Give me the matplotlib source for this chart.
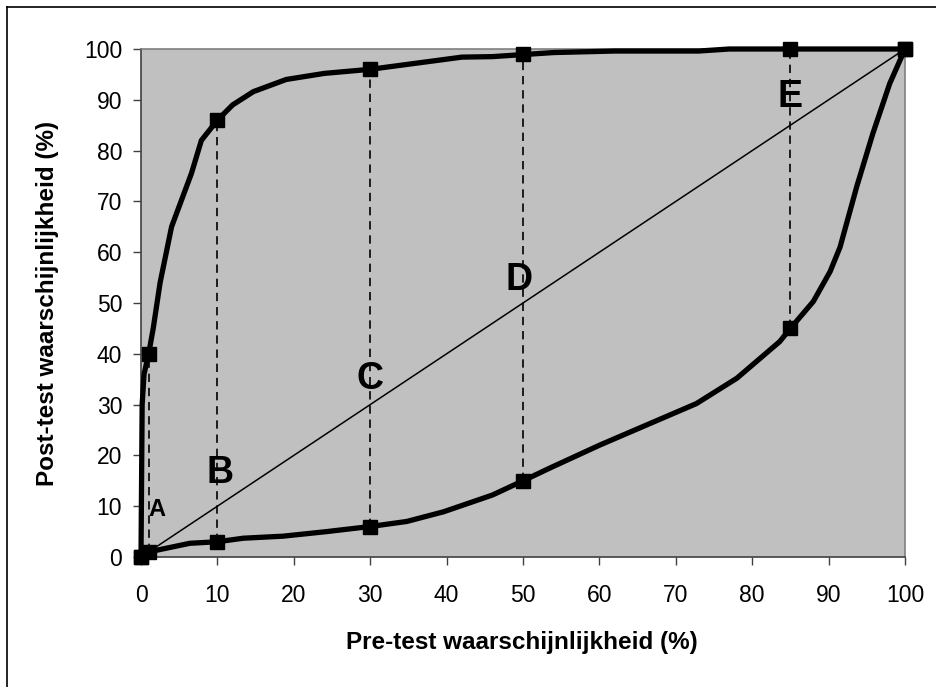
import matplotlib
matplotlib.use("Agg")
import matplotlib.pyplot as plt
from matplotlib.lines import Line2D


# upper curve (positive test)
PRE_UPPER = [0, 0.05, 0.1, 0.15, 0.4, 1, 1.6, 2.5, 4, 6.6, 7.9, 10, 12, 14.7,
             19, 24, 30, 35, 42, 46, 50, 54, 62, 73, 77, 85, 100]
POST_UPPER = [0, 10, 20, 30, 36, 40, 45, 54, 65, 75.5, 82, 86, 89, 91.6,
              94, 95.2, 96, 97, 98.4, 98.5, 98.9, 99.3, 99.6, 99.6, 100, 100, 100]

# lower curve (negative test)
PRE_LOWER = [0, 1, 6.4, 10, 13.4, 18.6, 24.3, 30, 34.8, 39.6, 46, 50, 53.5,
             60, 72.7, 78, 83.6, 85, 88, 90.2, 91.5, 93.7, 95.8, 98, 100]
POST_LOWER = [0, 1, 2.7, 3, 3.7, 4.1, 5, 6, 7, 8.9, 12.2, 15, 17.5,
              22, 30.2, 35.2, 42.4, 45, 50.3, 56.2, 61, 73, 83.4, 93.2, 100]

# marked points
MARK_PRE = [0, 1, 10, 30, 50, 85, 100]
MARK_UPPER = [0, 40, 86, 96, 99, 100, 100]
MARK_LOWER = [0, 1, 3, 6, 15, 45, 100]

LETTERS = ["A", "B", "C", "D", "E"]
LETTER_X = [2.1, 10.4, 30, 49.5, 85]
LETTER_Y = [9.4, 16.5, 35, 54.5, 90.5]

TICKS = [0, 10, 20, 30, 40, 50, 60, 70, 80, 90, 100]


def main() -> None:
    plt.rcParams.update(
        {
            "font.family": ["Liberation Sans", "DejaVu Sans"],
        }
    )

    W, H = 936, 687
    fig = plt.figure(figsize=(W / 100, H / 100), dpi=100)
    ax = fig.add_axes([141 / W, 1 - 557 / H, (905 - 141) / W, (557 - 49) / H])
    ax.set_facecolor("#C0C0C0")

    # outer chart frame (only left and top edges fall inside the image)
    fig.add_artist(Line2D([7 / W, 7 / W], [0, 1 - 7 / H], transform=fig.transFigure,
                          color="black", lw=1.2))
    fig.add_artist(Line2D([7 / W, 1], [1 - 7 / H, 1 - 7 / H], transform=fig.transFigure,
                          color="black", lw=1.2))

    # diagonal
    ax.plot([0, 100], [0, 100], color="black", lw=1.1, zorder=2)

    # vertical dashed drops
    for x, lo, hi in zip(MARK_PRE[1:6], MARK_LOWER[1:6], MARK_UPPER[1:6]):
        ax.plot([x, x], [lo, hi], color="black", lw=1.2, ls=(0, (5, 3.5)), zorder=2)

    ax.plot(PRE_UPPER, POST_UPPER, color="black", lw=3.8, solid_joinstyle="round",
            zorder=3, clip_on=False)
    ax.plot(PRE_LOWER, POST_LOWER, color="black", lw=3.8, solid_joinstyle="round",
            zorder=3, clip_on=False)
    ax.plot(MARK_PRE, MARK_UPPER, ls="none", marker="s", ms=9.5, color="black",
            zorder=4, clip_on=False)
    ax.plot(MARK_PRE, MARK_LOWER, ls="none", marker="s", ms=9.5, color="black",
            zorder=4, clip_on=False)

    for i, (lab, x, y) in enumerate(zip(LETTERS, LETTER_X, LETTER_Y)):
        size = 17 if i == 0 else 27
        ax.text(x, y, lab, fontsize=size, fontweight="bold", ha="center",
                va="center", zorder=5)

    ax.set_xlim(0, 100)
    ax.set_ylim(0, 100)
    ax.set_xticks(TICKS)
    ax.set_yticks(TICKS)
    ax.tick_params(direction="out", length=5.5, width=1, color="#404040",
                   labelsize=16.5)
    ax.tick_params(axis="x", pad=14)
    ax.tick_params(axis="y", pad=8)
    for side in ("left", "bottom"):
        ax.spines[side].set_color("#404040")
        ax.spines[side].set_linewidth(1.2)
    for side in ("top", "right"):
        ax.spines[side].set_color("#808080")
        ax.spines[side].set_linewidth(1.2)

    fig.text(522 / W, 1 - 642 / H, "Pre-test waarschijnlijkheid (%)", fontsize=17.5,
             fontweight="bold", ha="center", va="center")
    fig.text(48 / W, 1 - 303 / H, "Post-test waarschijnlijkheid (%)", fontsize=17.5,
             fontweight="bold", ha="center", va="center", rotation=90)

    fig.savefig("out.png", dpi=100)
    plt.close(fig)


if __name__ == "__main__":
    main()
